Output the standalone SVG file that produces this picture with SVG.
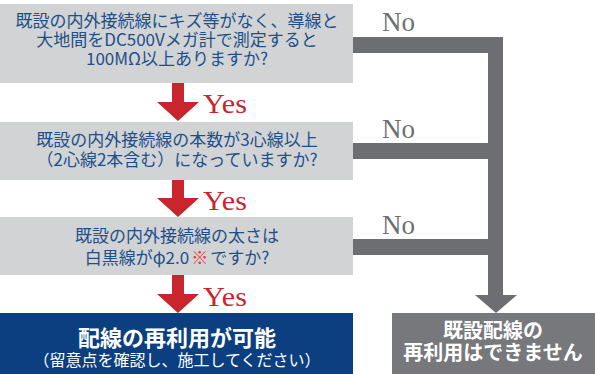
<svg xmlns="http://www.w3.org/2000/svg" width="595" height="374" viewBox="0 0 595 374">
<style>
.q{fill:#d1d3d4}
.qt{font-family:"Noto Sans CJK JP","Noto Sans",sans-serif;font-size:17px;fill:#1d4f8b;text-anchor:middle}
.ya{fill:#c9252c}
.yt{font-family:"Liberation Serif",serif;font-size:27px;fill:#c9252c}
.nt{font-family:"Liberation Serif",serif;font-size:27px;fill:#6d6e71}
.bar{fill:#6d6e71}
.wt{font-family:"Noto Sans CJK JP","Noto Sans",sans-serif;fill:#ffffff;text-anchor:middle}
</style>
<g id="connectors">
  <rect class="bar" x="353" y="37" width="150" height="16"/>
  <rect class="bar" x="353" y="143" width="150" height="16"/>
  <rect class="bar" x="353" y="239" width="150" height="16"/>
  <rect class="bar" x="488" y="37" width="15" height="259"/>
  <polygon class="bar" points="475,295 517,295 496,313"/>
  <text class="nt" x="382" y="31" textLength="33" lengthAdjust="spacingAndGlyphs">No</text>
  <text class="nt" x="382" y="138" textLength="33" lengthAdjust="spacingAndGlyphs">No</text>
  <text class="nt" x="382" y="234" textLength="33" lengthAdjust="spacingAndGlyphs">No</text>
  <polygon class="ya" points="172,83 184,83 184,102 199,102 178,121 157,102 172,102"/>
  <polygon class="ya" points="172,180 184,180 184,198 199,198 178,217 157,198 172,198"/>
  <polygon class="ya" points="172,275 184,275 184,294 199,294 178,313 157,294 172,294"/>
  <text class="yt" x="203" y="113" textLength="44" lengthAdjust="spacingAndGlyphs">Yes</text>
  <text class="yt" x="203" y="210" textLength="44" lengthAdjust="spacingAndGlyphs">Yes</text>
  <text class="yt" x="203" y="306" textLength="44" lengthAdjust="spacingAndGlyphs">Yes</text>
</g>
<g id="q1">
  <rect class="q" x="0" y="4" width="353" height="79"/>
  <text class="qt" x="177" y="27">既設の内外接続線にキズ等がなく、導線と</text>
  <text class="qt" x="177" y="46">大地間をDC500Vメガ計で測定すると</text>
  <text class="qt" x="177" y="65">100MΩ以上ありますか?</text>
</g>
<g id="q2">
  <rect class="q" x="0" y="122" width="353" height="58"/>
  <text class="qt" x="177" y="146">既設の内外接続線の本数が3心線以上</text>
  <text class="qt" x="177" y="166">（2心線2本含む）になっていますか?</text>
</g>
<g id="q3">
  <rect class="q" x="0" y="217" width="353" height="58"/>
  <text class="qt" x="177" y="242">既設の内外接続線の太さは</text>
  <text class="qt" x="177" y="264">白黒線がφ2.0<tspan fill="#e8353b" dx="2">※</tspan><tspan dx="2">ですか?</tspan></text>
</g>
<g id="ok">
  <rect x="0" y="313" width="353" height="61" fill="#0b3f7f"/>
  <text class="wt" x="177" y="346" font-size="22" font-weight="bold">配線の再利用が可能</text>
  <text class="wt" x="177" y="366" font-size="16">（留意点を確認し、施工してください）</text>
</g>
<g id="ng">
  <rect x="392" y="313" width="203" height="61" fill="#77787b"/>
  <text class="wt" x="493" y="338" font-size="20" font-weight="bold">既設配線の</text>
  <text class="wt" x="493" y="360" font-size="20" font-weight="bold">再利用はできません</text>
</g>
</svg>
